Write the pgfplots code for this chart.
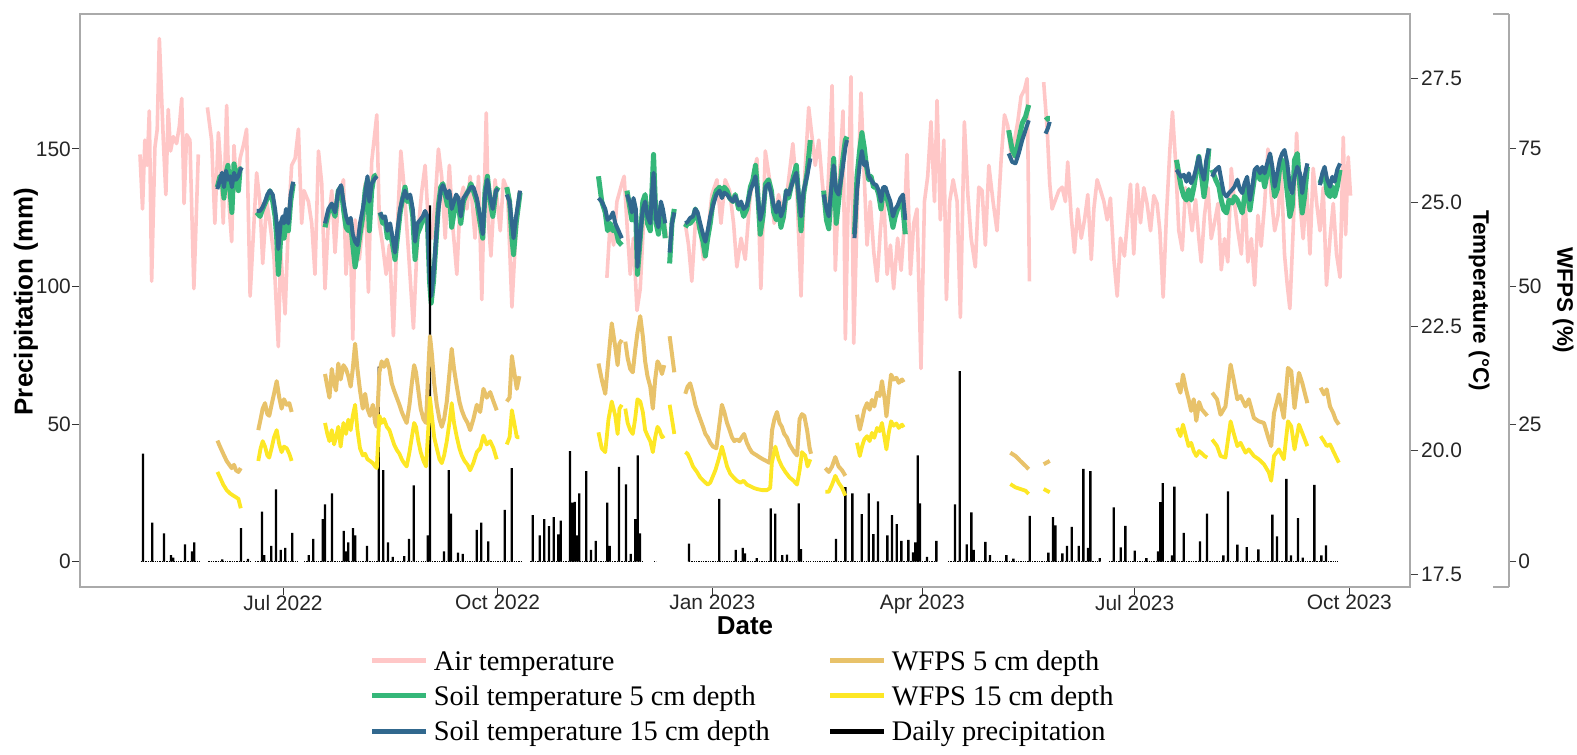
\documentclass[border=0pt]{standalone}
\usepackage{fontspec}
\setmainfont{Liberation Serif}
\setsansfont{Liberation Sans}
\usepackage{pgfplots}
\pgfplotsset{compat=1.18}
\definecolor{airT}{RGB}{255,199,199}
\definecolor{soilA}{RGB}{53,183,121}
\definecolor{soilB}{RGB}{49,104,142}
\definecolor{wfA}{RGB}{232,194,106}
\definecolor{wfB}{RGB}{253,231,37}
\definecolor{frameg}{RGB}{170,170,170}
\newcommand{\ticksize}{\sffamily\fontsize{21}{24}\selectfont}
\newcommand{\titlesize}{\sffamily\bfseries\fontsize{26}{30}\selectfont}
\newcommand{\rtitlesize}{\sffamily\bfseries\fontsize{22.5}{26}\selectfont}
\pgfplotsset{
  base/.style={at={(80bp,168bp)}, anchor=south west, scale only axis,
    width=1330bp, height=573bp, xmin=-87, xmax=483, unbounded coords=jump},
}
\begin{document}
\begin{tikzpicture}[x=1bp,y=1bp]
\path[use as bounding box] (0,0) rectangle (1577,755);

% ---------- temperature axis (right) with temperature series ----------
\begin{axis}[base, ymin=17.239, ymax=28.806,
  axis x line=none, axis y line*=right,
  y axis line style={-, draw=frameg, line width=1.2bp},
  ytick={17.5,20,22.5,25,27.5}, yticklabels={17.5,20.0,22.5,25.0,27.5},
  tick align=outside, major tick length=8bp,
  ytick style={black!75, line width=1bp},
  yticklabel style={font=\ticksize, text=black!85, inner xsep=3bp},
  every axis y label/.style={at={(axis description cs:1.0519,0.5)}, rotate=-90, anchor=center, font=\rtitlesize},
  ylabel={Temperature (°C)},
]
% Air temperature
\addplot[airT, line width=3.6bp, line join=round] coordinates {
(-61.3,25.97) (-60.2,24.87) (-59.2,26.26) (-58.2,25.75) (-57.3,26.85) (-56.3,23.41) (-54.9,26.11) (-53.9,26.48) (-53.0,28.31) (-51.3,26.26) (-50.2,25.16) (-49.2,26.88) (-48.2,26.04) (-47.0,26.33) (-45.6,26.19) (-44.4,26.55) (-43.4,27.10) (-42.4,24.98) (-41.3,26.37) (-39.9,26.26) (-38.2,23.26) (-36.3,25.97) (-34,nan)
(-32.4,26.92) (-30.6,26.26) (-29.2,24.58) (-27.7,26.41) (-26.7,25.75) (-25.6,24.58) (-24.15,26.96) (-23.0,24.87) (-22.0,24.21) (-21.0,26.15) (-19.86,25.24) (-18.4,25.89) (-17.0,26.15) (-15.6,26.48) (-14.1,23.11) (-11.3,25.60) (-9.9,25.02) (-8.7,23.77) (-7.0,25.02) (-5.6,24.58) (-3.9,23.92) (-2.0,22.09) (-1.0,23.99) (0.9,22.75) (2.3,24.58) (3.7,25.75) (5.2,25.89) (6.6,26.48) (8.0,24.58) (9.0,25.24) (10.9,25.02) (12.3,24.58) (13.7,23.55) (15.2,26.04) (16.6,25.38) (18.0,23.26) (19.4,24.58) (20.9,25.24) (22.3,23.99) (23.7,25.02) (25.9,25.46) (27.0,23.55) (28.7,24.65) (29.9,22.24) (30.9,24.65) (32.7,23.85) (34.2,24.58) (35.2,25.38) (36.6,23.19) (38.0,25.82) (40.2,26.77) (41.3,24.58) (42.7,24.14) (44.2,23.55) (45.6,24.14) (47.3,22.31) (48.8,24.28) (50.5,26.04) (51.9,25.31) (53.8,23.99) (55.9,22.46) (57.6,24.28) (59.5,25.24) (60.9,25.75) (62.3,24.58) (63.8,24.28) (65.2,25.02) (66.6,26.08) (68.0,25.53) (69.5,24.28) (71.3,25.75) (72.8,24.50) (74.5,23.55) (75.9,25.02) (77.3,25.31) (78.8,24.87) (80.2,25.53) (82.3,24.28) (83.8,25.53) (85.2,23.04) (87.1,26.81) (88.1,24.58) (89.1,23.92) (90.9,25.46) (93.1,24.43) (94.5,25.46) (96.2,25.24) (98.1,22.89) (99.5,24.14) (101.3,25.24) (120,nan)
(138.8,23.48) (140.2,24.58) (141.7,24.14) (143.1,25.02) (145.2,25.38) (146.2,25.53) (147.4,24.58) (148.8,23.55) (150.2,24.28) (151.7,22.82) (153.1,23.26) (154.5,24.58) (156.7,24.87) (158.5,25.24) (160.2,24.58) (162.4,24.87) (164.5,24.28) (168,nan)
(172.4,24.58) (173.8,24.14) (175.2,23.41) (176.7,24.58) (178.8,24.43) (180.2,23.85) (182.0,24.36) (183.8,25.16) (185.97,25.46) (187.7,24.58) (189.5,25.46) (191.4,25.24) (193.1,24.58) (194.5,23.70) (196.3,24.28) (198.1,23.85) (200.0,25.02) (201.7,25.60) (203.1,25.89) (204.8,23.26) (206.7,26.04) (208.8,25.38) (210.5,24.58) (212.4,25.16) (214.6,24.65) (216.7,25.46) (218.5,26.19) (220.3,25.16) (222.0,23.11) (223.4,25.38) (225.3,26.92) (228.1,25.75) (229.6,26.26) (231.0,25.46) (232.9,24.58) (234.3,26.11) (235.3,27.36) (236.7,23.63) (238.1,25.24) (240.0,26.85) (241.0,22.24) (242.4,25.46) (243.4,27.54) (244.6,22.16) (246.0,24.72) (247.7,27.21) (248.9,25.75) (250.3,24.14) (251.7,25.02) (253.2,23.99) (254.6,23.41) (256.0,24.43) (257.4,25.16) (258.9,23.55) (260.3,24.14) (261.7,23.26) (263.4,24.28) (264.9,23.63) (266.3,24.58) (267.4,25.97) (268.9,23.55) (270.3,24.58) (271.7,24.87) (273.4,21.65) (274.9,25.02) (276.3,25.53) (277.7,26.63) (279.2,25.02) (280.3,27.06) (281.7,24.65) (283.2,26.26) (284.3,23.04) (285.7,25.02) (287.2,25.46) (288.9,25.02) (290.3,22.68) (292.0,26.63) (293.5,25.16) (294.9,24.28) (296.7,23.70) (298.2,25.31) (299.6,25.24) (301.0,24.14) (302.5,25.75) (304.3,25.02) (306.0,24.43) (307.8,25.89) (309.2,26.77) (310.6,26.55) (312.2,25.89) (313.5,26.26) (314.9,26.63) (316.3,27.14) (317.8,27.28) (318.9,27.50) (319.9,23.41) (323,nan)
(326.0,27.43) (327.5,26.48) (328.6,25.38) (329.6,24.87) (332.5,25.24) (333.9,25.31) (335.3,25.02) (336.3,25.82) (337.8,24.72) (339.2,23.99) (340.6,24.87) (342.1,24.28) (343.5,24.65) (344.9,25.16) (346.4,23.85) (347.5,24.87) (348.9,25.46) (350.4,25.24) (351.8,25.02) (353.2,24.65) (354.6,25.09) (356.1,23.85) (357.5,23.11) (358.9,24.28) (360.6,23.92) (361.8,24.58) (363.2,25.37) (364.6,23.96) (366.1,25.37) (367.5,24.59) (368.9,25.30) (370.3,24.98) (371.8,24.43) (373.2,25.14) (374.6,24.98) (375.8,24.43) (377.2,23.09) (378.6,24.74) (380.1,26.08) (381.2,26.83) (382.5,25.84) (383.9,24.43) (385.4,24.04) (386.8,25.30) (388.2,24.98) (389.6,24.43) (391.1,25.06) (392.5,24.27) (393.5,23.80) (394.9,24.74) (396.4,25.30) (397.8,24.27) (399.2,24.59) (400.7,24.98) (402.1,23.64) (403.5,24.27) (404.9,23.80) (406.4,25.69) (407.8,24.98) (409.2,24.43) (410.7,23.96) (412.1,25.30) (413.5,23.80) (415.0,24.27) (416.4,23.33) (417.8,24.74) (419.2,24.12) (420.7,24.98) (422.1,26.08) (423.5,25.14) (425.0,24.43) (426.4,24.74) (427.8,25.69) (429.2,23.96) (430.4,23.33) (431.5,22.86) (432.9,24.43) (434.4,26.40) (435.8,24.98) (437.2,24.27) (438.7,25.30) (440.1,23.96) (441.5,25.69) (443.0,24.98) (444.4,24.43) (445.8,25.30) (447.2,23.33) (448.7,24.27) (450.1,24.98) (451.5,23.96) (453.0,23.49) (454.4,26.32) (455.4,24.35) (456.5,25.92) (457.5,25.14)
};
% Soil temperature 5 cm
\addplot[soilA, line width=5bp, line join=round] coordinates {
(-28.15,25.31) (-27.0,25.53) (-26.15,25.46) (-25.3,25.09) (-24.4,25.60) (-23.6,25.75) (-22.7,25.24) (-21.9,24.80) (-21.0,25.78) (-20.15,25.53) (-19.1,25.24) (-18.4,25.68) (-17.7,25.68) (-15,nan)
(-11.3,24.80) (-9.85,24.72) (-8.7,24.87) (-7.7,24.98) (-6.7,25.09) (-5.6,25.24) (-4.4,25.02) (-3.4,24.72) (-2.7,24.28) (-2.0,23.55) (-1.0,24.28) (-0.13,24.58) (0.44,24.28) (1.3,24.58) (2.3,24.43) (3.3,25.02) (4.4,25.38) (10,nan)
(18.0,24.50) (19.45,24.80) (20.9,24.94) (22.3,24.72) (23.7,25.24) (24.9,25.31) (25.9,24.87) (27.0,24.50) (28.0,24.43) (29.0,24.58) (29.9,24.14) (30.9,23.70) (31.9,23.99) (33.0,24.36) (34.2,24.72) (35.2,25.24) (36.2,25.46) (37.0,24.43) (38.0,25.24) (39.0,25.53) (40.2,25.56) (40.9,nan)
(41.6,24.80) (42.75,24.58) (43.75,24.65) (44.75,24.28) (45.9,24.43) (47.0,24.14) (48.0,23.85) (49.0,24.28) (50.2,24.80) (51.3,25.09) (52.3,25.31) (53.3,25.02) (54.5,25.09) (55.6,24.72) (56.6,23.85) (57.6,24.36) (58.8,24.50) (59.9,24.65) (60.9,24.80) (61.9,24.58) (62.8,23.41) (63.5,22.97) (64.5,23.41) (65.6,24.21) (66.6,24.94) (67.6,25.31) (68.5,25.38) (69.5,25.16) (70.5,24.94) (71.3,25.16) (72.3,24.50) (73.3,24.80) (74.2,25.09) (75.2,24.94) (76.2,24.58) (77.3,25.02) (78.5,25.16) (79.5,25.24) (80.5,25.38) (81.6,25.24) (83.05,25.02) (84.5,24.58) (85.6,24.28) (86.6,25.24) (87.6,25.53) (88.8,25.02) (89.9,24.72) (91.3,25.24) (92.3,25.31) (94,nan)
(95.9,25.31) (97.1,25.02) (98.1,24.28) (98.8,23.95) (99.9,24.58) (100.9,24.94) (101.6,25.20) (120,nan)
(135.2,25.53) (136.6,25.02) (138.1,24.80) (139.1,24.43) (140.2,24.58) (141.4,24.43) (142.4,24.50) (143.8,24.21) (145.2,24.14) (146.3,nan)
(147.4,25.24) (148.5,24.94) (149.5,24.65) (150.2,25.02) (151.2,24.72) (151.9,23.55) (153.1,24.28) (154.2,25.02) (155.2,25.16) (156.2,24.58) (157.4,24.43) (158.1,25.24) (158.8,25.97) (159.9,24.58) (160.9,24.36) (161.95,24.94) (162.8,24.72) (163.8,24.28) (164.7,nan)
(165.7,23.77) (166.7,24.58) (167.7,24.87) (170,nan)
(172.4,24.50) (173.4,24.58) (174.5,24.58) (175.7,24.65) (176.7,24.87) (177.7,24.72) (178.8,24.43) (180.0,24.21) (181.0,23.92) (182.0,24.28) (183.1,24.58) (184.3,25.02) (185.7,25.24) (187.1,25.31) (188.1,25.16) (189.1,25.31) (190.3,25.24) (191.4,25.09) (192.8,25.02) (193.8,25.16) (195.3,24.87) (196.3,24.94) (197.4,24.72) (198.8,24.87) (200.3,25.31) (201.4,25.46) (202.5,25.75) (203.4,25.24) (204.5,24.36) (205.7,24.72) (206.8,25.38) (208.1,25.46) (209.3,25.24) (210.3,24.80) (211.4,24.65) (212.4,24.87) (213.4,24.50) (214.5,24.72) (215.7,25.24) (216.7,25.09) (217.7,25.31) (218.8,25.53) (220.0,25.75) (221.0,25.09) (222.0,24.43) (223.1,25.16) (224.6,25.60) (226.0,26.26) (229,nan)
(231.7,25.24) (232.9,24.65) (233.9,24.47) (234.9,25.16) (236.0,25.89) (237.1,24.58) (238.1,25.02) (239.6,25.75) (241.0,26.26) (241.7,26.33) (243,nan)
(244.9,24.36) (246.0,25.53) (247.1,26.04) (248.1,26.41) (249.1,26.11) (250.0,25.75) (251.0,25.46) (252.0,25.53) (253.1,25.31) (254.3,25.31) (255.3,25.16) (256.3,24.87) (257.2,25.24) (258.2,25.24) (259.2,25.02) (260.3,24.80) (261.4,24.50) (262.4,24.72) (263.4,24.87) (264.6,25.02) (265.7,24.87) (266.7,24.36) (290,nan)
(311.0,26.46) (312.5,26.06) (313.9,25.93) (315.3,26.26) (316.8,26.60) (318.2,26.73) (319.6,26.97) (323,nan)
(326.8,26.66) (327.8,26.70) (328.6,26.70) (350,nan)
(382.9,25.86) (383.9,25.59) (384.9,25.32) (386.1,25.12) (387.2,25.05) (388.2,25.26) (389.2,25.05) (390.4,25.32) (391.5,25.66) (392.5,25.93) (393.5,25.59) (394.7,25.12) (395.7,25.46) (396.8,26.09) (397.5,nan)
(398.2,25.66) (399.7,25.46) (401.1,25.32) (402.1,25.05) (403.2,24.85) (404.4,24.79) (405.4,25.05) (406.8,24.99) (407.8,25.12) (409.0,25.05) (410.1,24.92) (411.1,24.79) (412.1,25.12) (413.2,25.32) (414.4,24.85) (415.4,25.19) (416.4,25.52) (417.5,25.66) (418.7,25.46) (419.7,25.59) (420.7,25.32) (421.8,25.59) (423.0,25.93) (424.0,25.46) (425.0,25.12) (426.1,25.26) (427.2,25.72) (428.2,25.86) (429.2,25.72) (430.4,25.19) (431.5,24.72) (432.5,24.92) (433.5,25.86) (434.7,25.99) (435.8,25.32) (436.8,24.79) (437.8,25.12) (439.0,25.72) (442,nan)
(444.4,25.39) (445.4,25.52) (446.4,25.59) (447.5,25.19) (448.7,25.12) (449.7,25.32) (450.7,25.12) (451.8,25.32) (453.0,25.66)
};
% Soil temperature 15 cm
\addplot[soilB, line width=4bp, line join=round] coordinates {
(-28.15,25.27) (-27.0,25.46) (-26.15,25.60) (-25.3,25.31) (-24.4,25.64) (-23.6,25.46) (-22.7,25.53) (-21.9,25.31) (-21.0,25.60) (-20.15,25.46) (-19.1,25.53) (-18.4,25.64) (-17.7,25.71) (-15,nan)
(-11.3,24.83) (-9.85,24.83) (-8.7,24.91) (-7.7,25.02) (-6.7,25.16) (-5.6,25.24) (-4.4,25.16) (-3.4,24.87) (-2.7,24.58) (-2.0,24.06) (-1.0,24.58) (-0.13,24.72) (0.44,24.58) (1.3,24.87) (2.3,24.58) (3.3,25.16) (4.4,25.42) (10,nan)
(18.0,24.58) (19.45,24.87) (20.9,24.98) (22.3,24.80) (23.7,25.24) (24.9,25.35) (25.9,25.02) (27.0,24.72) (28.0,24.58) (29.0,24.69) (29.9,24.36) (30.9,24.21) (31.9,24.14) (33.0,24.58) (34.2,24.87) (35.2,25.16) (36.2,25.53) (37.0,25.02) (38.0,25.38) (39.0,25.46) (40.2,25.53) (40.9,nan)
(41.6,24.80) (42.75,24.69) (43.75,24.72) (44.75,24.43) (45.9,24.58) (47.0,24.28) (48.0,23.99) (49.0,24.43) (50.2,24.87) (51.3,25.09) (52.3,25.24) (53.3,25.09) (54.5,25.16) (55.6,24.87) (56.6,24.21) (57.6,24.58) (58.8,24.65) (59.9,24.72) (60.9,24.83) (61.9,24.72) (62.8,23.55) (63.5,23.11) (64.5,23.55) (65.6,24.28) (66.6,24.87) (67.6,25.24) (68.5,25.35) (69.5,25.24) (70.5,25.09) (71.3,25.24) (72.3,24.87) (73.3,25.02) (74.2,25.16) (75.2,25.09) (76.2,24.72) (77.3,25.09) (78.5,25.16) (79.5,25.24) (80.5,25.31) (81.6,25.31) (83.05,25.09) (84.5,24.72) (85.6,24.36) (86.6,25.16) (87.6,25.46) (88.8,25.09) (89.9,24.87) (91.3,25.24) (92.3,25.27) (94,nan)
(95.9,25.16) (97.1,25.02) (98.1,24.58) (98.8,24.28) (99.9,24.72) (100.9,25.02) (101.6,25.24) (120,nan)
(135.2,25.09) (136.6,25.02) (138.1,24.87) (139.1,24.65) (140.2,24.69) (141.4,24.80) (142.4,24.58) (143.8,24.43) (145.2,24.28) (146.3,nan)
(147.4,25.16) (148.5,25.02) (149.5,24.80) (150.2,25.09) (151.2,24.87) (151.9,23.70) (153.1,24.36) (154.2,24.87) (155.2,25.02) (156.2,24.72) (157.4,24.58) (158.1,25.16) (158.8,25.60) (159.9,24.65) (160.9,24.50) (161.95,25.02) (162.8,24.87) (163.8,24.58) (164.7,nan)
(165.7,23.99) (166.7,24.58) (167.7,24.80) (170,nan)
(172.4,24.58) (173.4,24.61) (174.5,24.69) (175.7,24.72) (176.7,24.87) (177.7,24.80) (178.8,24.58) (180.0,24.36) (181.0,24.21) (182.0,24.43) (183.1,24.72) (184.3,24.94) (185.7,25.16) (187.1,25.24) (188.1,25.09) (189.1,25.20) (190.3,25.16) (191.4,25.09) (192.8,25.02) (193.8,25.13) (195.3,24.94) (196.3,25.02) (197.4,24.87) (198.8,24.94) (200.3,25.24) (201.4,25.38) (202.5,25.53) (203.4,25.16) (204.5,24.65) (205.7,24.87) (206.8,25.31) (208.1,25.38) (209.3,25.16) (210.3,24.94) (211.4,24.80) (212.4,25.02) (213.4,24.72) (214.5,24.87) (215.7,25.24) (216.7,25.16) (217.7,25.31) (218.8,25.46) (220.0,25.60) (221.0,25.16) (222.0,24.72) (223.1,25.24) (224.6,25.53) (226.0,25.89) (229,nan)
(231.7,25.16) (232.9,24.87) (233.9,24.72) (234.9,25.24) (236.0,25.75) (237.1,25.24) (238.1,25.16) (239.6,25.60) (241.0,26.11) (241.7,26.26) (243,nan)
(244.9,24.28) (246.0,25.24) (247.1,25.75) (248.1,26.04) (249.1,25.75) (250.0,25.82) (251.0,25.53) (252.0,25.46) (253.1,25.38) (254.3,25.35) (255.3,25.24) (256.3,25.02) (257.2,25.31) (258.2,25.31) (259.2,25.16) (260.3,25.02) (261.4,24.72) (262.4,24.87) (263.4,24.94) (264.6,25.09) (265.7,25.16) (266.7,24.65) (290,nan)
(311.0,25.99) (312.5,25.82) (313.9,25.79) (315.3,25.99) (316.8,26.26) (318.2,26.46) (319.6,26.66) (323,nan)
(326.8,26.39) (327.8,26.50) (328.6,26.63) (350,nan)
(382.9,25.66) (383.9,25.59) (384.9,25.52) (386.1,25.56) (387.2,25.42) (388.2,25.59) (389.2,25.39) (390.4,25.52) (391.5,25.72) (392.5,25.93) (393.5,25.66) (394.7,25.46) (395.7,25.86) (396.8,26.09) (397.5,nan)
(398.2,25.52) (399.7,25.66) (401.1,25.72) (402.1,25.46) (403.2,25.19) (404.4,25.12) (405.4,25.19) (406.8,25.26) (407.8,25.32) (409.0,25.46) (410.1,25.26) (411.1,25.19) (412.1,25.39) (413.2,25.52) (414.4,25.05) (415.4,25.32) (416.4,25.66) (417.5,25.72) (418.7,25.59) (419.7,25.72) (420.7,25.59) (421.8,25.79) (423.0,25.99) (424.0,25.72) (425.0,25.32) (426.1,25.59) (427.2,25.86) (428.2,25.99) (429.2,26.06) (430.4,25.79) (431.5,25.32) (432.5,25.19) (433.5,25.52) (434.7,25.72) (435.8,25.59) (436.8,25.19) (437.8,25.52) (439.0,25.79) (442,nan)
(444.4,25.35) (445.4,25.59) (446.4,25.72) (447.5,25.46) (448.7,25.32) (449.7,25.52) (450.7,25.42) (451.8,25.66) (453.0,25.79)
};
\end{axis}

% ---------- precipitation axis (left, frame, dates) ----------
\begin{axis}[base, ymin=-9.2, ymax=199,
  axis line style={frameg, line width=1.2bp},
  tick pos=left, tick align=outside, major tick length=8bp,
  tick style={black!80, line width=1bp},
  xtick={0,92,184,274,365,457},
  xticklabels={Jul 2022,Oct 2022,Jan 2023,Apr 2023,Jul 2023,Oct 2023},
  ytick={0,50,100,150}, yticklabels={0,50,100,150},
  xticklabel style={font=\ticksize, text=black!85, inner ysep=0bp},
  yticklabel style={font=\ticksize, text=black!85, inner xsep=1bp},
  every axis x label/.style={at={(axis description cs:0.5,-0.068)}, anchor=center, font=\titlesize},
  every axis y label/.style={at={(axis description cs:-0.0406,0.498)}, rotate=90, anchor=center, font=\titlesize},
  xlabel={Date}, ylabel={Precipitation (mm)},
]
\addplot[black, line width=0.9bp, dash pattern=on 1.3bp off 1.03bp, forget plot] coordinates {
(-61,0) (-36,0) (-34,nan) (-32,0) (-14,0) (-13,nan) (-12,0) (6,0) (7,nan) (9,0) (102,0) (104,nan) (106,0) (154,0) (156,nan) (159,0) (160,0) (165,nan) (174,0) (280,0) (282,nan) (285,0) (350,0) (352,nan) (354,0) (452,0)
};
\addplot[ybar, bar width=2.3bp, fill=black, draw=none, forget plot] coordinates {
(-60,39.3) (-56,14.2) (-51,10.3) (-48,2.4) (-47,1.5) (-42,6.3) (-39,3.7) (-38,7.0) (-26,0.8) (-18,12.2) (-15,1.0) (-9,18.2) (-8,2.4) (-5,5.7) (-3,26.3) (-1,4.3) (1,5.0) (4,10.5) (11,2.4) (13,8.3) (17,15.5) (18,20.8) (21,24.8) (26,11.2) (27,3.7) (28,7.0) (30,12.2) (31,9.6) (36,5.7) (41,70.9) (43,33.3) (45,7.0) (47,1.7) (52,2.0) (54,8.3) (56,27.7) (62,9.6) (63,129.5) (69,3.7) (71,33.3) (72,17.5) (75,3.3) (77,2.8) (83,11.6) (85,14.2) (88,7.4) (95,18.8) (98,34.0) (107,16.9) (110,9.6) (112,15.5) (114,12.9) (116,16.2) (118,9.9) (119,14.9) (123,40.2) (124,21.5) (125,21.7) (126,9.6) (127,24.8) (130,32.9) (132,4.3) (134,7.6) (139,21.5) (140,5.7) (144,34.4) (147,28.1) (149,2.8) (151,15.5) (152,38.6) (153,10.3) (174,6.6) (187,22.8) (194,4.3) (197,5.0) (198,3.0) (203,1.3) (209,19.4) (211,17.5) (214,2.4) (216,2.6) (221,21.2) (222,4.6) (237,8.3) (241,27.1) (244,24.8) (248,17.3) (251,24.8) (253,10.0) (255,21.9) (259,9.6) (261,16.9) (263,13.6) (265,7.6) (268,7.9) (270,3.4) (271,7.0) (272,38.6) (273,21.2) (276,1.7) (280,7.6) (288,20.8) (290,69.2) (293,6.3) (295,17.9) (296,4.3) (301,7.2) (303,2.4) (310,2.4) (313,1.1) (320,16.6) (328,3.3) (330,16.2) (331,13.2) (334,3.0) (336,5.7) (338,12.6) (341,5.7) (343,33.7) (345,5.0) (346,32.9) (350,1.3) (356,19.7) (359,5.2) (361,13.0) (365,4.0) (370,1.3) (375,3.7) (376,21.6) (377,28.5) (381,2.3) (382,27.3) (386,10.5) (393,7.4) (396,17.5) (403,2.3) (405,25.5) (409,6.2) (413,5.3) (418,4.5) (424,17.1) (426,9.2) (430,30.1) (432,2.3) (435,15.8) (437,1.5) (442,27.9) (445,2.3) (447,5.9)
};
\end{axis}

% ---------- WFPS series ----------
\begin{axis}[base, ymin=-4.6, ymax=99.5, hide axis]
\addplot[wfA, line width=4bp, line join=round] coordinates {
(-28.1,22.0) (-27.0,20.9) (-25.6,19.6) (-24.15,18.3) (-23.0,17.6) (-22.0,17.0) (-21.0,17.6) (-20.15,16.6) (-19.1,16.3) (-18.1,17.0) (-15,nan)
(-10.6,23.9) (-9.6,25.9) (-8.7,27.8) (-7.7,28.8) (-6.7,26.8) (-5.9,26.5) (-4.9,28.5) (-3.85,30.5) (-2.7,32.8) (-1.6,29.8) (-0.6,27.8) (0.4,29.5) (1.6,28.5) (2.7,28.8) (3.7,27.2) (10,nan)
(18.0,34.1) (19.0,31.8) (19.9,29.8) (20.9,35.0) (21.9,32.4) (22.7,31.1) (23.7,36.0) (24.7,33.1) (25.9,35.7) (27.0,35.0) (28.0,33.7) (29.0,31.8) (29.9,35.0) (30.9,39.6) (31.9,35.0) (33.0,31.1) (34.2,27.8) (35.2,30.5) (36.2,27.8) (37.3,26.5) (38.5,28.5) (39.5,25.2) (40.2,24.5)
(41.3,34.4) (42.3,36.4) (43.3,35.4) (44.5,36.7) (45.6,35.0) (46.6,32.4) (47.6,31.1) (48.75,29.8) (49.9,28.5) (50.9,27.2) (51.9,26.2) (53.0,25.2) (54.2,28.5) (55.2,32.4) (56.2,35.7) (57.0,34.4) (58.0,31.1) (59.0,27.8) (60.2,25.9) (61.3,25.2) (62.3,35.0) (63.0,40.96) (63.8,37.7) (64.8,32.4) (65.9,28.5) (67.05,25.9) (68.05,24.5) (69.05,25.9) (70.2,29.1) (71.3,34.1) (72.3,38.67) (73.3,35.0) (74.5,31.8) (75.6,29.1) (76.6,27.5) (77.8,26.2) (79.1,25.2) (80.2,23.9) (81.6,25.9) (83.05,28.5) (84.5,27.2) (85.9,31.4) (87.3,29.8) (88.8,30.8) (90.2,29.1) (91.6,27.5) (94,nan)
(95.9,29.1) (97.1,29.8) (98.1,37.35) (99.1,34.4) (100.2,31.4) (101.3,33.7) (120,nan)
(135.2,36.0) (136.6,33.1) (138.1,30.5) (139.5,37.0) (140.9,43.3) (142.4,39.0) (143.4,35.7) (144.2,39.6) (145.2,40.3) (146.0,nan)
(146.7,39.97) (147.7,37.0) (148.8,35.0) (149.9,34.4) (150.9,38.3) (151.9,41.6) (153.1,44.6) (154.2,40.96) (155.2,36.4) (156.2,33.7) (157.4,31.8) (158.5,27.8) (159.5,33.1) (160.5,36.4) (161.4,35.7) (162.4,34.1) (163.4,35.7) (164.7,nan)
(165.7,40.96) (166.7,37.7) (167.7,34.4) (170,nan)
(172.4,30.5) (173.4,31.8) (174.5,32.4) (175.7,30.5) (176.7,28.5) (177.7,27.2) (178.8,25.9) (180.0,24.5) (181.0,23.2) (182.0,22.6) (183.1,21.6) (184.3,20.9) (185.7,20.6) (187.1,25.2) (188.1,28.5) (189.1,27.2) (190.3,25.2) (191.4,23.9) (192.4,22.6) (193.4,21.9) (194.5,22.2) (195.6,21.9) (196.6,22.6) (197.6,23.2) (198.8,21.6) (199.9,20.6) (200.9,19.9) (201.9,19.6) (203.1,19.3) (204.3,18.95) (205.7,18.6) (207.1,18.3) (208.6,17.95) (209.6,23.9) (210.6,25.9) (211.7,27.2) (212.8,25.2) (213.8,24.5) (214.8,23.2) (215.9,22.6) (217.1,21.3) (218.1,20.6) (219.1,19.9) (220.3,19.3) (221.4,25.9) (222.4,26.8) (223.4,26.5) (224.6,23.9) (225.7,20.6) (226.3,19.6) (229,nan)
(232.4,17.0) (233.9,16.3) (235.3,17.3) (236.7,19.0) (238.1,17.3) (239.6,16.6) (241.0,15.6) (243,nan)
(246.0,26.7) (247.2,24.0) (248.2,25.8) (249.1,27.6) (250.3,28.8) (251.4,27.6) (252.4,29.4) (253.4,28.2) (254.6,30.7) (255.7,30.1) (256.7,32.8) (257.9,29.4) (258.6,26.4) (259.6,30.4) (260.6,33.98) (261.7,33.1) (262.9,33.4) (263.9,32.5) (265.3,33.1) (266.0,32.6) (290,nan)
(311.7,19.8) (313.9,19.2) (316.0,18.3) (318.2,17.4) (319.6,16.8) (323,nan)
(326.0,17.7) (328.6,18.3) (350,nan)
(383.2,32.5) (384.6,30.7) (385.7,34.0) (387.0,31.3) (388.1,29.5) (389.2,27.4) (390.3,29.5) (391.4,25.6) (392.6,29.0) (393.7,27.7) (394.9,27.1) (396.1,26.5) (397.2,nan)
(398.2,30.7) (400.3,29.5) (401.8,26.7) (403.9,28.2) (406.1,35.8) (407.4,33.1) (409.0,29.5) (410.4,30.1) (412.5,28.2) (413.9,29.5) (416.1,26.1) (418.2,25.5) (420.4,25.2) (422.5,22.2) (423.5,21.0) (424.7,27.0) (426.8,30.4) (428.9,26.1) (430.7,35.2) (432.1,34.6) (433.5,27.9) (435.4,34.3) (436.8,32.5) (439.0,28.8) (442,nan)
(444.7,31.6) (446.1,30.4) (447.3,31.3) (448.7,28.2) (450.1,27.0) (451.1,25.8) (452.5,24.9)
};
\addplot[wfB, line width=3.8bp, line join=round] coordinates {
(-28.1,16.3) (-27.0,15.3) (-25.6,14.0) (-24.15,13.0) (-22.7,12.4) (-21.3,12.0) (-20.15,11.7) (-19.1,11.4) (-18.1,9.7) (-15,nan)
(-10.6,18.3) (-9.6,20.6) (-8.7,21.9) (-7.7,20.9) (-6.7,19.3) (-5.9,18.9) (-4.9,20.6) (-3.85,22.6) (-2.7,23.9) (-1.6,21.3) (-0.6,19.9) (0.4,20.9) (1.6,20.6) (2.7,19.6) (3.7,18.3) (10,nan)
(18.0,25.2) (19.0,23.2) (19.9,21.9) (20.9,23.9) (21.9,21.3) (22.7,22.6) (23.7,24.5) (24.7,20.9) (25.9,25.2) (27.0,23.2) (28.0,25.8) (29.0,23.9) (29.9,26.5) (30.9,28.5) (31.9,23.9) (33.0,20.6) (34.2,19.3) (35.2,19.6) (36.2,18.6) (37.3,18.3) (38.5,17.9) (39.5,17.3) (40.2,17.0)
(41.3,26.5) (42.3,25.2) (43.3,25.9) (44.5,24.5) (45.6,23.9) (46.6,22.6) (47.6,21.3) (48.75,20.3) (49.9,19.6) (50.9,18.6) (51.9,17.9) (53.0,17.3) (54.2,19.9) (55.2,22.6) (56.2,25.2) (57.0,24.5) (58.0,21.9) (59.0,19.9) (60.2,18.3) (61.3,17.3) (62.3,24.5) (63.0,29.8) (63.8,26.5) (64.8,22.6) (65.9,20.6) (67.05,18.6) (68.05,17.9) (69.05,19.3) (70.2,21.9) (71.3,25.2) (72.3,28.8) (73.3,25.2) (74.5,22.6) (75.6,20.6) (76.6,19.3) (77.8,18.3) (79.1,17.6) (80.2,16.6) (81.6,17.95) (83.05,19.9) (84.5,20.6) (85.9,22.9) (87.3,21.3) (88.8,21.9) (90.2,20.6) (91.6,18.6) (94,nan)
(95.9,21.3) (97.1,22.6) (98.1,27.5) (99.1,25.2) (100.2,22.6) (101.3,22.6) (120,nan)
(135.2,23.5) (136.6,20.6) (138.1,19.9) (139.5,25.9) (140.9,29.1) (142.4,26.5) (143.4,23.2) (144.2,27.8) (145.2,28.5) (146.0,nan)
(146.7,27.8) (147.7,25.2) (148.8,23.9) (149.9,23.2) (150.9,25.9) (151.9,29.5) (153.1,29.1) (154.2,27.2) (155.2,23.9) (156.2,22.9) (157.4,21.9) (158.5,19.9) (159.5,22.6) (160.5,24.5) (161.4,23.9) (162.4,22.6) (163.4,22.9) (164.7,nan)
(165.7,28.5) (166.7,25.9) (167.7,23.2) (170,nan)
(172.4,19.9) (173.4,19.6) (174.5,18.6) (175.7,17.3) (177.4,16.3) (178.8,15.3) (180.2,14.7) (182.0,14.0) (183.1,14.35) (185.3,16.6) (186.7,18.6) (188.1,20.9) (189.1,19.3) (190.3,17.3) (191.7,15.97) (193.1,15.3) (194.5,14.7) (196.0,14.35) (197.4,14.7) (198.8,14.0) (200.3,13.7) (201.7,13.4) (203.1,13.2) (205.3,13.0) (207.4,13.0) (208.8,13.4) (209.5,17.95) (211.0,20.9) (212.4,18.6) (213.8,17.3) (215.3,16.3) (217.1,15.3) (218.8,14.7) (220.3,14.0) (221.4,16.6) (222.4,19.9) (223.8,19.3) (224.8,17.3) (226.0,18.6) (229,nan)
(232.4,12.7) (233.9,12.7) (235.3,14.0) (236.7,15.6) (238.1,14.35) (239.6,13.4) (241.0,12.0) (243,nan)
(246.0,21.6) (247.2,19.2) (248.2,21.0) (249.1,22.2) (250.3,22.8) (251.4,21.9) (252.4,23.4) (253.4,22.5) (254.6,24.3) (255.7,23.7) (256.7,25.2) (257.9,22.2) (258.6,20.4) (259.6,23.4) (260.6,25.5) (261.7,24.7) (262.9,25.1) (263.9,24.3) (265.3,24.9) (266.0,24.4) (290,nan)
(311.7,14.1) (313.9,13.5) (316.0,13.2) (318.2,12.9) (319.6,12.3) (323,nan)
(326.0,13.2) (328.6,12.6) (350,nan)
(383.2,24.3) (384.6,22.8) (385.7,24.9) (387.0,22.8) (388.1,21.0) (389.2,21.6) (390.3,20.1) (391.4,19.2) (392.6,20.1) (393.7,19.7) (394.9,19.2) (396.1,18.9) (397.2,nan)
(398.2,22.2) (400.3,21.0) (401.8,19.2) (403.9,18.9) (406.1,25.5) (407.4,23.4) (409.0,21.0) (410.4,21.6) (412.5,19.8) (413.9,20.4) (416.1,19.2) (418.2,18.6) (420.4,17.7) (422.5,16.2) (423.5,14.7) (424.7,19.2) (426.8,20.4) (428.9,18.6) (430.7,25.5) (432.1,24.6) (433.5,20.4) (435.4,24.9) (436.8,23.4) (439.0,21.0) (442,nan)
(444.7,22.8) (446.1,21.9) (447.3,21.0) (448.7,21.3) (450.1,20.1) (451.1,19.2) (452.5,18.0)
};
\end{axis}

% ---------- WFPS scale (outer right) ----------
\begin{axis}[at={(80bp,168bp)}, anchor=south west, scale only axis,
  width=1429bp, height=573bp, xmin=-87, xmax=525.43, ymin=-4.6, ymax=99.5,
  axis x line=none, axis y line*=right,
  y axis line style={-, draw=frameg, line width=1.2bp},
  ytick={0,25,50,75}, yticklabels={0,25,50,75},
  tick align=outside, major tick length=7bp,
  ytick style={black!75, line width=1bp},
  yticklabel style={font=\ticksize, text=black!85, inner xsep=2bp},
  every axis y label/.style={at={(axis description cs:1.0378,0.5)}, rotate=-90, anchor=center, font=\rtitlesize},
  ylabel={WFPS (\%)},
]
\end{axis}
\draw[frameg, line width=1.2bp] (1493,168) -- (1509,168) (1493,741) -- (1509,741);

% ---------- legend ----------
\begin{axis}[base, hide axis, xmin=0, xmax=1, ymin=0, ymax=1,
  legend columns=3, transpose legend,
  legend cell align=left,
  legend image code/.code={\draw[#1] (0bp,0bp) -- (54bp,0bp);},
  legend style={at={(0.2180,-0.0986)}, anchor=north west, draw=none, fill=none,
    inner sep=0pt, outer sep=0pt, row sep=0pt,
    font=\fontsize{28.5}{30}\selectfont,
    nodes={inner xsep=5bp, inner ysep=0bp, text height=27bp, text depth=8bp},
    /tikz/every even column/.append style={column sep=53bp}},
]
\addlegendimage{airT, line width=5bp}\addlegendentry{Air temperature}
\addlegendimage{soilA, line width=5bp}\addlegendentry{Soil temperature 5 cm depth}
\addlegendimage{soilB, line width=5bp}\addlegendentry{Soil temperature 15 cm depth}
\addlegendimage{wfA, line width=5bp}\addlegendentry{WFPS 5 cm depth}
\addlegendimage{wfB, line width=5bp}\addlegendentry{WFPS 15 cm depth}
\addlegendimage{black, line width=5bp}\addlegendentry{Daily precipitation}
\end{axis}
\end{tikzpicture}
\end{document}
